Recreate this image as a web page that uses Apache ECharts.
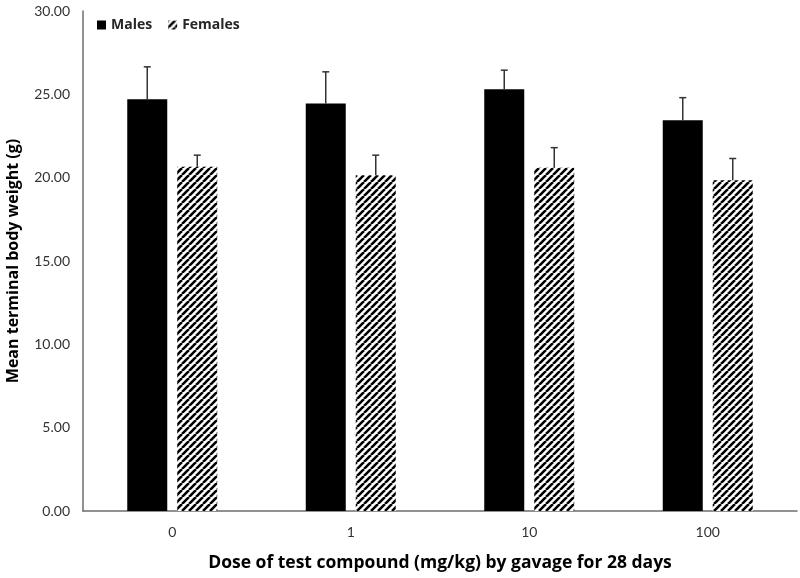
<!DOCTYPE html>
<html>
<head>
<meta charset="utf-8">
<script src="https://cdn.jsdelivr.net/npm/echarts@6/dist/echarts.min.js"></script>
<style>html,body{margin:0;padding:0;background:#fff}#c{width:800px;height:578px}</style>
</head>
<body>
<div id="c"></div>
<script>
const categories = ['0', '1', '10', '100'];
const malesMean = [24.7, 24.45, 25.3, 23.45];
const malesErr = [1.95, 1.9, 1.15, 1.35];
const femalesMean = [20.65, 20.15, 20.6, 19.85];
const femalesErr = [0.7, 1.2, 1.2, 1.3];
const yTicks = [0, 5, 10, 15, 20, 25, 30];

function stripePattern() {
  const s = 7;
  const cv = document.createElement('canvas');
  cv.width = s; cv.height = s;
  const ctx = cv.getContext('2d');
  ctx.fillStyle = '#fff';
  ctx.fillRect(0, 0, s, s);
  ctx.strokeStyle = '#000';
  ctx.lineWidth = 2.6;
  ctx.beginPath();
  for (let k = -1; k <= 1; k++) {
    ctx.moveTo(k * s, s);
    ctx.lineTo(k * s + s, 0);
  }
  ctx.stroke();
  return cv;
}

const pattern = { image: stripePattern(), repeat: 'repeat' };
const BAR_W = 40, OFFSET = 25;

function errorSeries(means, errs, sign) {
  return {
    type: 'custom',
    z: 5,
    silent: true,
    data: means.map((m, i) => [i, m, m + errs[i]]),
    renderItem: function (params, api) {
      const base = api.coord([api.value(0), api.value(1)]);
      const top = api.coord([api.value(0), api.value(2)]);
      const x = base[0] + sign * OFFSET;
      const style = { stroke: '#333', lineWidth: 1.5 };
      return {
        type: 'group',
        children: [
          { type: 'line', shape: { x1: x, y1: base[1], x2: x, y2: top[1] }, style: style },
          { type: 'line', shape: { x1: x - 3.5, y1: top[1], x2: x + 3.5, y2: top[1] }, style: style }
        ]
      };
    }
  };
}

const chart = echarts.init(document.getElementById('c'));
chart.setOption({
  animation: false,
  textStyle: { fontFamily: 'Lato' },
  legend: {
    left: 92, top: 13,
    itemWidth: 9, itemHeight: 9, itemGap: 16,
    icon: 'rect',
    textStyle: { fontFamily: 'Open Sans', fontWeight: 'bold', fontSize: 14, color: '#262626' },
    data: ['Males', 'Females']
  },
  grid: { left: 83, right: 3, top: 11, bottom: 67, containLabel: false, outerBoundsMode: 'none' },
  xAxis: {
    type: 'category',
    data: categories,
    axisLine: { lineStyle: { color: '#6e6e6e', width: 1.5 } },
    axisTick: { show: false },
    axisLabel: { fontSize: 14, color: '#333', margin: 14, fontFamily: 'Lato' },
    name: 'Dose of test compound (mg/kg) by gavage for 28 days',
    nameLocation: 'middle',
    nameGap: 43,
    nameTextStyle: { fontFamily: 'Open Sans', fontWeight: 'bold', fontSize: 17.5, color: '#000' }
  },
  yAxis: {
    type: 'value',
    min: yTicks[0], max: yTicks[yTicks.length - 1], interval: 5,
    axisLine: { show: true, lineStyle: { color: '#6e6e6e', width: 1.5 } },
    axisTick: { show: false },
    splitLine: { show: false },
    axisLabel: { fontSize: 14, color: '#333', margin: 13, fontFamily: 'Lato', formatter: v => v.toFixed(2) },
    name: 'Mean terminal body weight (g)',
    nameLocation: 'middle',
    nameGap: 62,
    nameTextStyle: { fontFamily: 'Open Sans', fontWeight: 'bold', fontSize: 16, color: '#000' }
  },
  series: [
    {
      name: 'Males', type: 'bar', data: malesMean,
      barWidth: BAR_W, barGap: '25%',
      itemStyle: { color: '#000' }
    },
    {
      name: 'Females', type: 'bar', data: femalesMean,
      barWidth: BAR_W, barGap: '25%',
      itemStyle: { color: pattern }
    },
    errorSeries(malesMean, malesErr, -1),
    errorSeries(femalesMean, femalesErr, 1)
  ]
});
</script>
</body>
</html>
